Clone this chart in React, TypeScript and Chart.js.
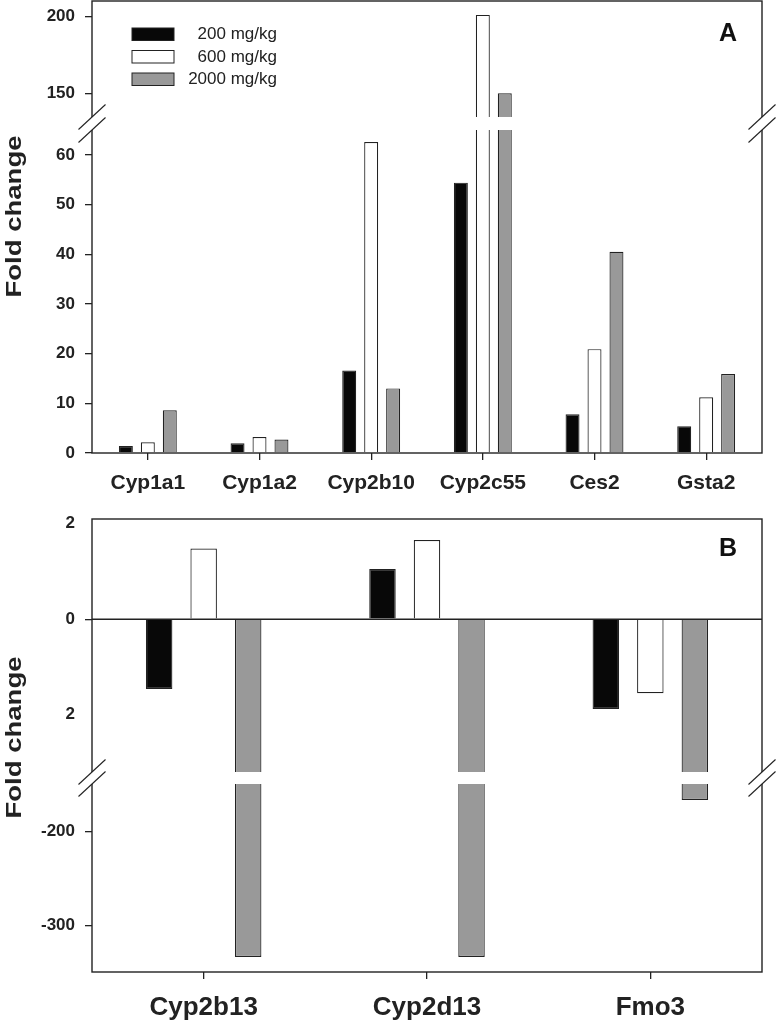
import React, { useEffect, useRef } from 'react';
import { Chart, registerables, LinearScale } from 'chart.js';

// ---------- data ----------
const genesA = ['Cyp1a1', 'Cyp1a2', 'Cyp2b10', 'Cyp2c55', 'Ces2', 'Gsta2'];
const doseLabels = ['200 mg/kg', '600 mg/kg', '2000 mg/kg'];
const a200 = [1.4, 1.95, 16.6, 54.4, 7.8, 5.4];
const a600 = [2.15, 3.2, 62.6, 201, 20.9, 11.2];
const a2000 = [8.6, 2.7, 13.0, 150.3, 40.5, 15.9];
const ticksA = [0, 10, 20, 30, 40, 50, 60, 150, 200];

const genesB = ['Cyp2b13', 'Cyp2d13', 'Fmo3'];
const b200 = [-1.46, 1.05, -1.88];
const b600 = [1.48, 1.66, -1.55];
const b2000 = [-333, -333, -167];
const ticksB = [-300, -200, -2, 0, 2];
const tickLabelsB = ['-300', '-200', '2', '0', '2'];

const doseColors = ['#080808', '#ffffff', '#999999'];

// ---------- broken scale ----------
type Seg = { min: number; max: number; d0: number; d1: number };
const segA: Seg[] = [
  { min: 0, max: 65, d0: 0, d1: 0.7146 },
  { min: 135, max: 210, d0: 0.7434, d1: 1 },
];
const segB: Seg[] = [
  { min: -349, max: -150, d0: 0, d1: 0.415 },
  { min: -3.2, max: 2.1, d0: 0.4415, d1: 1 },
];

function lerp(v: number, a: number, b: number, c: number, d: number) {
  return c + ((v - a) / (b - a)) * (d - c);
}
function v2d(v: number, segs: Seg[]) {
  const first = segs[0];
  if (v <= first.max) return lerp(v, first.min, first.max, first.d0, first.d1);
  for (let i = 0; i < segs.length - 1; i++) {
    const s = segs[i], n = segs[i + 1];
    if (v > s.max && v < n.min) return lerp(v, s.max, n.min, s.d1, n.d0);
    if (v >= n.min && (v <= n.max || i + 1 === segs.length - 1)) return lerp(v, n.min, n.max, n.d0, n.d1);
  }
  const last = segs[segs.length - 1];
  return lerp(v, last.min, last.max, last.d0, last.d1);
}
function d2v(d: number, segs: Seg[]) {
  const first = segs[0];
  if (d <= first.d1) return lerp(d, first.d0, first.d1, first.min, first.max);
  for (let i = 0; i < segs.length - 1; i++) {
    const s = segs[i], n = segs[i + 1];
    if (d > s.d1 && d < n.d0) return lerp(d, s.d1, n.d0, s.max, n.min);
    if (d >= n.d0) return lerp(d, n.d0, n.d1, n.min, n.max);
  }
  return first.min;
}
function makeBroken(id: string, segs: Seg[]) {
  class S extends (LinearScale as any) {
    getPixelForValue(value: number) {
      if (value === null || value === undefined || Number.isNaN(value)) return NaN;
      return (this as any).getPixelForDecimal(v2d(value, segs));
    }
    getValueForPixel(pixel: number) {
      return d2v((this as any).getDecimalForPixel(pixel), segs);
    }
  }
  (S as any).id = id;
  return S as any;
}
const BrokenA = makeBroken('brokenA', segA);
const BrokenB = makeBroken('brokenB', segB);

Chart.register(...registerables, BrokenA, BrokenB);

const FONT = '"Liberation Sans", Arial, Helvetica, sans-serif';
const INK = '#222';

function drawFrame(chart: any, segs: Seg[]) {
  const { ctx, chartArea } = chart;
  const { left, right, top, bottom } = chartArea;
  const y = chart.scales.y;
  const gBot = y.getPixelForValue(segs[0].max);
  const gTop = y.getPixelForValue(segs[1].min);
  ctx.save();
  ctx.strokeStyle = INK;
  ctx.lineWidth = 1.4;
  ctx.strokeRect(left, top, right - left, bottom - top);
  ctx.fillStyle = '#ffffff';
  ctx.fillRect(left - 3, gTop, right - left + 6, gBot - gTop);
  ctx.lineWidth = 1.1;
  for (const x of [left, right]) {
    for (const yy of [gTop, gBot]) {
      ctx.beginPath();
      ctx.moveTo(x - 13.5, yy + 12.5);
      ctx.lineTo(x + 13.5, yy - 12.5);
      ctx.stroke();
    }
  }
  ctx.restore();
}

function drawYTitle(ctx: CanvasRenderingContext2D, cy: number) {
  ctx.save();
  ctx.translate(21, cy);
  ctx.rotate(-Math.PI / 2);
  ctx.scale(1.25, 1);
  ctx.font = `bold 22px ${FONT}`;
  ctx.textAlign = 'center';
  ctx.textBaseline = 'alphabetic';
  ctx.fillStyle = INK;
  ctx.fillText('Fold change', 0, 0);
  ctx.restore();
}

function drawLetter(ctx: CanvasRenderingContext2D, text: string, x: number, y: number) {
  ctx.save();
  ctx.font = `bold 25px ${FONT}`;
  ctx.textAlign = 'center';
  ctx.textBaseline = 'middle';
  ctx.fillStyle = '#111';
  ctx.fillText(text, x, y);
  ctx.restore();
}

function makeDatasets(series: number[][], catPct: number, barPct: number) {
  return series.map((d, i) => ({
    label: doseLabels[i],
    data: d,
    backgroundColor: doseColors[i],
    borderColor: INK,
    borderWidth: 1.2,
    categoryPercentage: catPct,
    barPercentage: barPct,
  }));
}

function yScale(type: string, min: number, max: number, ticks: number[], labels: (v: number, i: number) => string) {
  return {
    type,
    min,
    max,
    bounds: 'data',
    afterBuildTicks: (s: any) => {
      s.ticks = ticks.map((v) => ({ value: v }));
    },
    afterFit: (s: any) => {
      s.width = 92;
      s.paddingTop = 0;
      s.paddingBottom = 0;
    },
    ticks: {
      autoSkip: false,
      padding: 10,
      color: INK,
      font: { family: FONT, size: 17, weight: 'bold' },
      callback: (v: number, i: number) => labels(v, i),
    },
    grid: {
      drawOnChartArea: false,
      drawTicks: true,
      tickLength: 7,
      lineWidth: 1.3,
      color: (c: any) => (c.tick && Math.abs(c.tick.value) === 2 ? 'rgba(0,0,0,0)' : INK),
    },
    border: { display: false },
  };
}

function xScale(size: number, height: number, pad: number) {
  return {
    type: 'category',
    offset: true,
    afterFit: (s: any) => {
      s.height = height;
      s.paddingLeft = 0;
      s.paddingRight = 0;
    },
    ticks: {
      autoSkip: false,
      maxRotation: 0,
      padding: pad,
      color: INK,
      font: { family: FONT, size, weight: 'bold' },
    },
    grid: {
      offset: false,
      drawOnChartArea: false,
      drawTicks: true,
      tickLength: 7,
      lineWidth: 1.3,
      color: INK,
    },
    border: { display: false },
  };
}

function PanelA() {
  const ref = useRef<HTMLCanvasElement>(null);
  useEffect(() => {
    const plugin = {
      id: 'panelA',
      afterDatasetsDraw(chart: any) {
        drawFrame(chart, segA);
      },
      afterDraw(chart: any) {
        const ctx = chart.ctx;
        drawYTitle(ctx, 216.5);
        drawLetter(ctx, 'A', 728, 34);
        // legend
        ctx.save();
        chart.data.datasets.forEach((ds: any, i: number) => {
          const by = 28 + i * 22.5;
          ctx.fillStyle = ds.backgroundColor;
          ctx.fillRect(132, by, 42, 12.5);
          ctx.strokeStyle = INK;
          ctx.lineWidth = 1;
          ctx.strokeRect(132, by, 42, 12.5);
          ctx.fillStyle = INK;
          ctx.font = `17px ${FONT}`;
          ctx.textAlign = 'right';
          ctx.textBaseline = 'middle';
          ctx.fillText(ds.label, 277, by + 6.5);
        });
        ctx.restore();
      },
    };
    const chart = new Chart(ref.current as HTMLCanvasElement, {
      type: 'bar',
      data: {
        labels: genesA,
        datasets: makeDatasets([a200, a600, a2000], 0.59, 0.636) as any,
      },
      options: {
        responsive: false,
        animation: false,
        devicePixelRatio: 1,
        layout: { padding: { top: 1, right: 15, left: 0, bottom: 0 } },
        plugins: { legend: { display: false }, tooltip: { enabled: false } },
        scales: {
          x: xScale(21, 47, 11) as any,
          y: yScale('brokenA', 0, 210, ticksA, (v) => String(v)) as any,
        },
      },
      plugins: [plugin],
    });
    return () => chart.destroy();
  }, []);
  return <canvas ref={ref} width={777} height={500} style={{ display: 'block' }} />;
}

function PanelB() {
  const ref = useRef<HTMLCanvasElement>(null);
  useEffect(() => {
    const plugin = {
      id: 'panelB',
      afterDatasetsDraw(chart: any) {
        const { ctx, chartArea } = chart;
        const y0 = chart.scales.y.getPixelForValue(0);
        ctx.save();
        ctx.strokeStyle = INK;
        ctx.lineWidth = 1.5;
        ctx.beginPath();
        ctx.moveTo(chartArea.left, y0);
        ctx.lineTo(chartArea.right, y0);
        ctx.stroke();
        ctx.restore();
        drawFrame(chart, segB);
      },
      afterDraw(chart: any) {
        const ctx = chart.ctx;
        drawYTitle(ctx, 237.5);
        drawLetter(ctx, 'B', 728, 49.5);
      },
    };
    const chart = new Chart(ref.current as HTMLCanvasElement, {
      type: 'bar',
      data: {
        labels: genesB,
        datasets: makeDatasets([b200, b600, b2000], 0.598, 0.595) as any,
      },
      options: {
        responsive: false,
        animation: false,
        devicePixelRatio: 1,
        layout: { padding: { top: 19, right: 15, left: 0, bottom: 0 } },
        plugins: { legend: { display: false }, tooltip: { enabled: false } },
        scales: {
          x: xScale(26, 48, 13) as any,
          y: yScale('brokenB', -349, 2.1, ticksB, (_v, i) => tickLabelsB[i]) as any,
        },
      },
      plugins: [plugin],
    });
    return () => chart.destroy();
  }, []);
  return <canvas ref={ref} width={777} height={520} style={{ display: 'block' }} />;
}

export default function App() {
  return (
    <div style={{ position: 'absolute', left: 0, top: 0, width: 777, height: 1020, background: '#fff' }}>
      <PanelA />
      <PanelB />
    </div>
  );
}
